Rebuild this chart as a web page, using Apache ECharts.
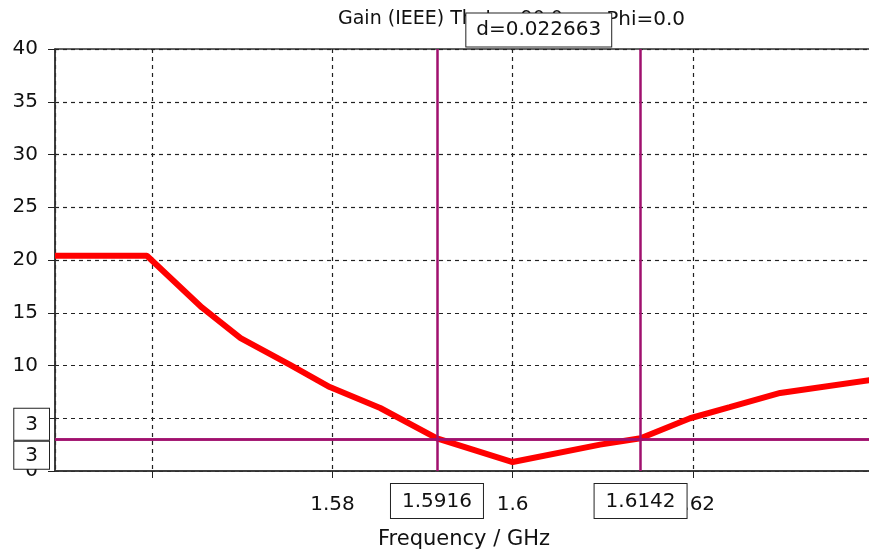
<!DOCTYPE html>
<html>
<head>
<meta charset="utf-8">
<script src="https://cdn.jsdelivr.net/npm/echarts@6/dist/echarts.min.js"></script>
<style>
  html, body { margin: 0; padding: 0; background: #fff; overflow: hidden; }
  #diogram { width: 869px; height: 550px; }
</style>
</head>
<body>
<div id="diogram"></div>
<script>
// gain curve
let freq = [1.5492, 1.5594, 1.5655, 1.5698, 1.5753, 1.5797, 1.5853, 1.5916, 1.6000, 1.6097, 1.6142, 1.6197, 1.6241, 1.6297, 1.6400];
let gain = [20.4, 20.4, 15.5, 12.6, 10.05, 7.96, 5.97, 3.1, 0.85, 2.5, 3.1, 5.0, 6.05, 7.4, 8.65];

// markers
let markerFreq = [1.5916, 1.6142];
let markerGain = 3;
let markerDelta = 'd=0.022663';

let xTickLabels = ['1.58', '1.6', '1.62'];
let titleLeft = 'Gain (IEEE) Theta=90.0';
let titleRight = 'Phi=0.0';

let font = 'DejaVu Sans';
let purple = '#a0106e';

let diogram = document.getElementById("diogram");
let myDiogram = echarts.init(diogram);

let boxLabel = {
    color: '#111',
    fontFamily: font,
    fontSize: 20,
    backgroundColor: '#fff',
    borderColor: '#222',
    borderWidth: 1
};

let markData = [
    {
        xAxis: markerFreq[0],
        label: Object.assign({}, boxLabel, { position: 'start', formatter: String(markerFreq[0]), distance: 13, padding: [8, 11, 6, 11] })
    },
    {
        xAxis: markerFreq[1],
        label: Object.assign({}, boxLabel, { position: 'start', formatter: String(markerFreq[1]), distance: 13, padding: [8, 11, 6, 11] })
    },
    {
        yAxis: markerGain,
        label: Object.assign({}, boxLabel, { position: 'start', formatter: String(markerGain), distance: 6, padding: [6, 11, 5, 11], offset: [0, -15] })
    },
    {
        yAxis: markerGain,
        label: Object.assign({}, boxLabel, { position: 'start', formatter: String(markerGain), distance: 6, padding: [4, 11, 3, 11], offset: [0, 16] })
    }
];

let option = {
    animation: false,
    grid: {
        left: 55,
        right: -4,
        top: 49,
        bottom: 79,
        outerBoundsMode: 'none',
        containLabel: false,
        show: true,
        borderColor: '#333',
        borderWidth: 1.5
    },
    xAxis: {
        type: 'value',
        min: 1.5492,
        max: 1.64,
        minInterval: 0.02,
        maxInterval: 0.02,
        name: 'Frequency / GHz',
        nameLocation: 'middle',
        nameGap: 58,
        nameTextStyle: { fontFamily: font, fontSize: 21, color: '#111' },
        axisLine: { lineStyle: { color: '#333', width: 1.5 } },
        axisTick: { length: 7, lineStyle: { color: '#222' } },
        axisLabel: {
            margin: 24,
            fontFamily: font,
            fontSize: 20,
            color: '#111',
            showMinLabel: false,
            showMaxLabel: false,
            hideOverlap: false,
            formatter: function (v) {
                let s = String(parseFloat(v.toFixed(4)));
                return xTickLabels.indexOf(s) >= 0 ? s : '';
            }
        },
        splitLine: { show: true, showMaxLine: false, lineStyle: { color: '#222', type: [4, 4], width: 1.2 } }
    },
    yAxis: {
        type: 'value',
        min: 0,
        max: 40,
        interval: 5,
        axisLine: { show: true, lineStyle: { color: '#333', width: 1.5 } },
        axisTick: { show: true, length: 7, lineStyle: { color: '#222' } },
        axisLabel: { margin: 17, fontFamily: font, fontSize: 20, color: '#111' },
        splitLine: { show: true, lineStyle: { color: '#222', type: [4, 4], width: 1.2 } }
    },
    series: [
        {
            name: 'Gain',
            type: 'line',
            data: freq.map((f, i) => [f, gain[i]]),
            showSymbol: false,
            lineStyle: { color: '#ff0000', width: 6 },
            color: '#ff0000',
            z: 3,
            markLine: {
                silent: true,
                symbol: 'none',
                precision: 4,
                animation: false,
                lineStyle: { color: purple, width: 2.5, type: 'solid' },
                data: markData
            }
        }
    ],
    graphic: [
        {
            id: 'titleLeft',
            type: 'text',
            left: 338,
            top: 10,
            z: 10,
            style: { text: titleLeft, fontFamily: font, fontSize: 19, fill: '#111' }
        },
        {
            id: 'titleRight',
            type: 'text',
            right: 184,
            top: 10,
            z: 10,
            style: { text: titleRight, fontFamily: font, fontSize: 20, fill: '#111' }
        }
    ]
};

myDiogram.setOption(option);

// delta box sits midway between the two frequency markers
let midX = myDiogram.convertToPixel({ gridIndex: 0 }, [(markerFreq[0] + markerFreq[1]) / 2, 0])[0];
myDiogram.setOption({
    graphic: [
        {
            id: 'delta',
            type: 'text',
            x: midX,
            y: 30,
            z: 20,
            style: {
                text: markerDelta,
                fontFamily: font,
                fontSize: 20,
                fill: '#111',
                align: 'center',
                verticalAlign: 'middle',
                backgroundColor: '#fff',
                borderColor: '#222',
                borderWidth: 1,
                padding: [7, 10, 6, 10]
            }
        }
    ]
});
</script>
</body>
</html>
